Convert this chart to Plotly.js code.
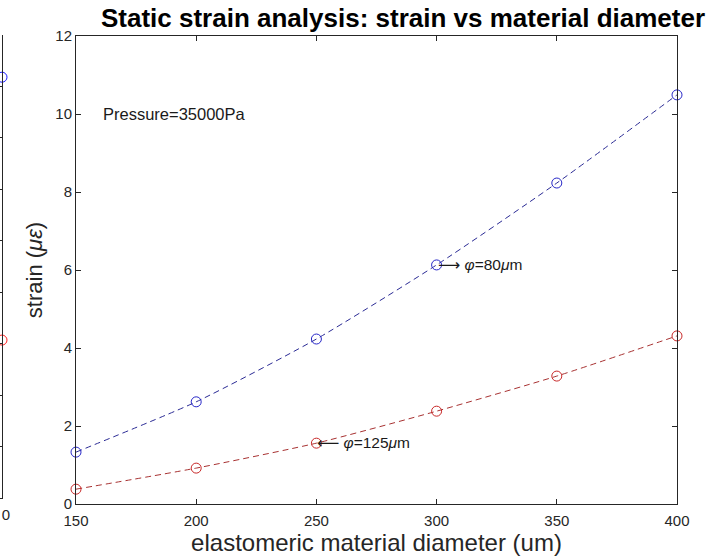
<!DOCTYPE html>
<html>
<head>
<meta charset="utf-8">
<script src="https://cdn.plot.ly/plotly-3.0.1.min.js"></script>
<style>html,body{margin:0;padding:0;background:#fff;}</style>
</head>
<body>
<div id="chart" style="width:708px;height:560px;"></div>
<script>
// Main chart data
const diameters = [150, 200, 250, 300, 350, 400];
const strain80 = [1.33, 2.62, 4.23, 6.13, 8.23, 10.49];
const strain125 = [0.38, 0.92, 1.56, 2.38, 3.28, 4.31];
const xTicks = [150, 200, 250, 300, 350, 400];
const yTicks = [0, 2, 4, 6, 8, 10, 12];
// Remnant of the neighbouring (left) subplot, cut off at the image edge
const leftX = [0];
const leftBlue = [8.18];
const leftRed = [3.07];

const FONT = 'Liberation Sans, Arial, sans-serif';
const AX = '#262626';
const ARROW = '<span style="font-family:DejaVu Sans">';

const traces = [
  {x: diameters, y: strain80, mode: 'lines+markers', type: 'scatter', xaxis: 'x', yaxis: 'y',
   line: {color: '#2b2b95', width: 1, dash: '6px,4px', shape: 'spline', smoothing: 0.6},
   marker: {symbol: 'circle-open', size: 10, color: '#2626c8', line: {width: 1, color: '#2626c8'}},
   cliponaxis: false, showlegend: false},
  {x: diameters, y: strain125, mode: 'lines+markers', type: 'scatter', xaxis: 'x', yaxis: 'y',
   line: {color: '#a83232', width: 1, dash: '6px,4px', shape: 'spline', smoothing: 0.6},
   marker: {symbol: 'circle-open', size: 10, color: '#c82828', line: {width: 1, color: '#c82828'}},
   cliponaxis: false, showlegend: false},
  {x: leftX, y: leftBlue, mode: 'markers', type: 'scatter', xaxis: 'x2', yaxis: 'y2',
   marker: {symbol: 'circle-open', size: 10, color: '#1a1aff', line: {width: 1, color: '#1a1aff'}},
   cliponaxis: false, showlegend: false},
  {x: leftX, y: leftRed, mode: 'markers', type: 'scatter', xaxis: 'x2', yaxis: 'y2',
   marker: {symbol: 'circle-open', size: 10, color: '#ff2020', line: {width: 1, color: '#ff2020'}},
   cliponaxis: false, showlegend: false}
];

const layout = {
  width: 708, height: 560,
  margin: {l: 0, r: 0, t: 0, b: 0},
  paper_bgcolor: '#fff', plot_bgcolor: '#fff',
  font: {family: FONT, color: AX, size: 15},
  title: {text: '<b>Static strain analysis: strain vs material diameter</b>',
          font: {family: FONT, size: 26, color: '#000'},
          x: 403/708, xanchor: 'center', xref: 'paper', y: 1 - 18/560, yanchor: 'middle', yref: 'paper'},
  xaxis: {domain: [76/708, 677/708], range: [150, 400], tickvals: xTicks,
          ticks: 'inside', ticklen: 5, tickcolor: AX, showline: true, linecolor: AX, linewidth: 1,
          mirror: 'ticks', showgrid: false, zeroline: false, anchor: 'y', ticklabelstandoff: 3,
          tickfont: {family: FONT, size: 15, color: AX},
          title: {text: 'elastomeric material diameter (um)', font: {family: FONT, size: 24, color: AX}, standoff: 6}},
  yaxis: {domain: [56/560, 524/560], range: [0, 12], tickvals: yTicks,
          ticks: 'inside', ticklen: 5, tickcolor: AX, showline: true, linecolor: AX, linewidth: 1,
          mirror: 'ticks', showgrid: false, zeroline: false, anchor: 'x',
          tickfont: {family: FONT, size: 15, color: AX},
          title: {text: 'strain (<i>με</i>)', font: {family: FONT, size: 22, color: AX}, standoff: 6}},
  xaxis2: {domain: [0, 2/708], range: [-10, 0], tickvals: leftX,
           ticks: '', showline: true, linecolor: AX, linewidth: 1, showgrid: false, zeroline: false,
           ticklabeloverflow: 'allow', ticklabelstandoff: 3, ticklabelshift: 4,
           anchor: 'y2', tickfont: {family: FONT, size: 15, color: AX}},
  yaxis2: {domain: [62/560, 525/560], range: [0, 9], dtick: 1, side: 'right',
           ticks: 'inside', ticklen: 5, tickcolor: AX, showline: true, linecolor: AX, linewidth: 1,
           mirror: true, showgrid: false, zeroline: false, showticklabels: false, anchor: 'x2'},
  annotations: [
    {x: 161.2, y: 10, xref: 'x', yref: 'y', text: 'Pressure=35000Pa', showarrow: false,
     xanchor: 'left', yanchor: 'middle', xshift: -2, font: {family: FONT, size: 16.5, color: '#1a1a1a'}},
    {x: diameters[3], y: strain80[3], xref: 'x', yref: 'y', text: ARROW + '⟶</span> <i>φ</i>=80<i>μ</i>m', showarrow: false,
     xanchor: 'left', yanchor: 'middle', xshift: -1, font: {family: FONT, size: 15.5, color: '#1a1a1a'}},
    {x: diameters[2], y: strain125[2], xref: 'x', yref: 'y', text: ARROW + '⟵</span> <i>φ</i>=125<i>μ</i>m', showarrow: false,
     xanchor: 'left', yanchor: 'middle', xshift: -1, font: {family: FONT, size: 15.5, color: '#1a1a1a'}}
  ]
};

Plotly.newPlot('chart', traces, layout, {displayModeBar: false, staticPlot: true});
</script>
</body>
</html>
